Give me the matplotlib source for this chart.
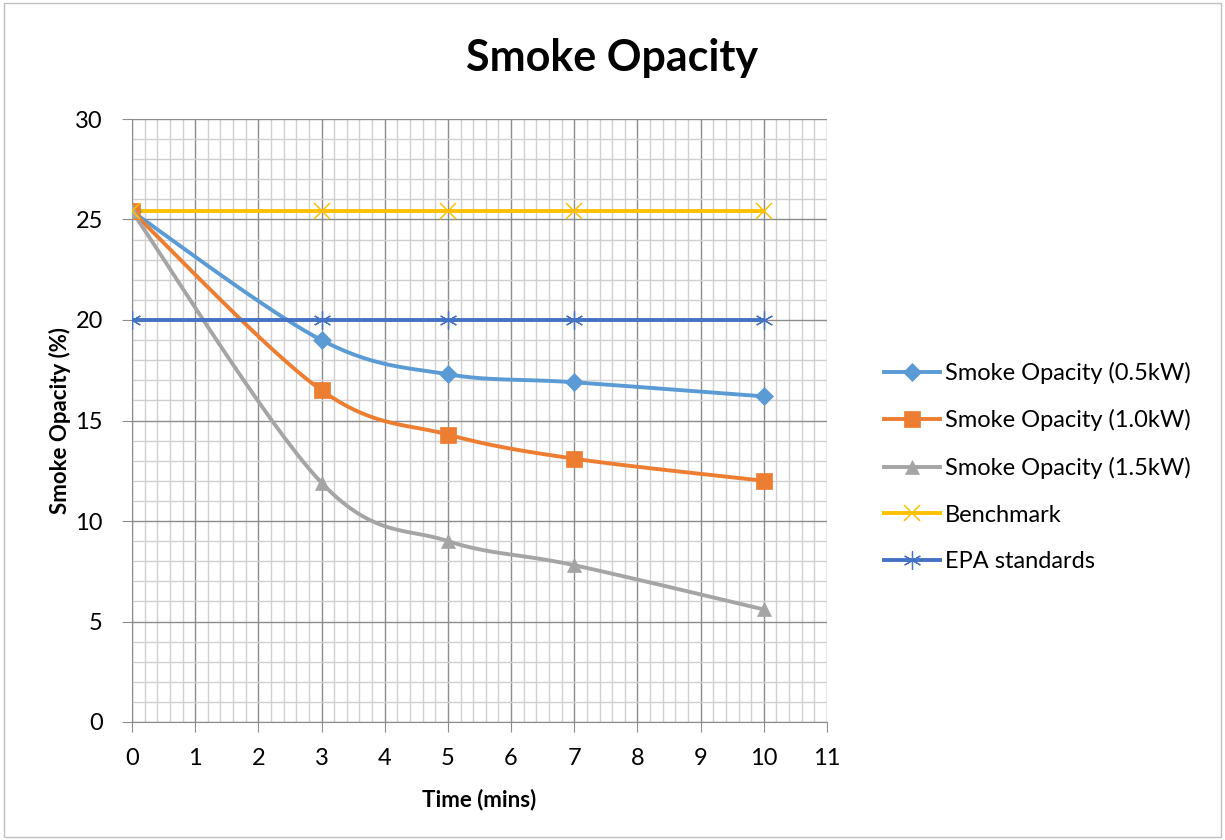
import matplotlib
matplotlib.use("Agg")
import matplotlib.pyplot as plt
import numpy as np
from matplotlib.ticker import MultipleLocator
from matplotlib.patches import Rectangle

plt.rcParams["font.family"] = ["Lato", "DejaVu Sans"]

times = [0, 3, 5, 7, 10]
opacity_05 = [25.4, 19.0, 17.3, 16.9, 16.2]
opacity_10 = [25.4, 16.5, 14.3, 13.1, 12.0]
opacity_15 = [25.4, 11.9, 9.0, 7.8, 5.6]
benchmark = [25.4, 25.4, 25.4, 25.4, 25.4]
epa_standard = [20, 20, 20, 20, 20]

labels = ["Smoke Opacity (0.5kW)", "Smoke Opacity (1.0kW)", "Smoke Opacity (1.5kW)",
          "Benchmark", "EPA standards"]
colors = ["#5B9BD5", "#ED7D31", "#A5A5A5", "#FFC000", "#4472C4"]
markers = ["D", "s", "^", "x", (6, 2, 0)]
markerSizes = [9, 11, 10, 12, 13]
markerEdges = [0.5, 0.5, 0.5, 1.1, 0.9]
smooth = [True, True, True, False, False]


def smoothCurve(xs, ys, sx, sy, n=30):
    # excel-like bezier smoothing, done in roughly screen-scaled coordinates
    pts = np.column_stack([np.array(xs, float) * sx, np.array(ys, float) * sy])
    outX, outY = [], []
    for i in range(len(pts) - 1):
        p0 = pts[max(i - 1, 0)]
        p1 = pts[i]
        p2 = pts[i + 1]
        p3 = pts[min(i + 2, len(pts) - 1)]
        c1 = p1 + (p2 - p0) / 6.0
        c2 = p2 - (p3 - p1) / 6.0
        t = np.linspace(0, 1, n)[:, None]
        seg = (1 - t) ** 3 * p1 + 3 * (1 - t) ** 2 * t * c1 + 3 * (1 - t) * t ** 2 * c2 + t ** 3 * p2
        outX.extend(seg[:, 0] / sx)
        outY.extend(seg[:, 1] / sy)
    return outX, outY


fig = plt.figure(figsize=(12.25, 8.4), dpi=100)
ax = fig.add_axes([132 / 1225, 1 - 722 / 840, (827 - 132) / 1225, (722 - 119) / 840])

ax.set_xlim(0, 11)
ax.set_ylim(0, 30)
ax.xaxis.set_major_locator(MultipleLocator(1))
ax.xaxis.set_minor_locator(MultipleLocator(0.2))
ax.yaxis.set_major_locator(MultipleLocator(5))
ax.yaxis.set_minor_locator(MultipleLocator(1))
ax.grid(which="major", color="#8C8C8C", linewidth=1.0, zorder=0)
ax.grid(which="minor", color="#D0D0D0", linewidth=1.0, zorder=0)
ax.set_axisbelow(True)

for s in ["top", "right"]:
    ax.spines[s].set_visible(False)
for s in ["left", "bottom"]:
    ax.spines[s].set_color("#8C8C8C")
ax.tick_params(which="major", length=7, color="#8C8C8C", labelsize=17)
ax.tick_params(axis="x", pad=12)
ax.tick_params(axis="y", pad=14)
ax.tick_params(which="minor", length=0)

sx, sy = 63.2, 20.1
seriesList = [opacity_05, opacity_10, opacity_15, benchmark, epa_standard]
for vals, lab, col, mk, ms, mew, sm in zip(seriesList, labels, colors, markers,
                                          markerSizes, markerEdges, smooth):
    if sm:
        cx, cy = smoothCurve(times, vals, sx, sy)
    else:
        cx, cy = times, vals
    ax.plot(cx, cy, color=col, linewidth=2.8, zorder=3, solid_capstyle="round")
    ax.plot(times, vals, linestyle="none", marker=mk, color=col, markersize=ms,
            markeredgewidth=mew, zorder=4)
    ax.plot([], [], color=col, linewidth=2.8, marker=mk, markersize=ms,
            markeredgewidth=mew, label=lab)

ax.set_xlabel("Time (mins)", fontsize=16, fontweight="bold", labelpad=14)
ax.set_ylabel("Smoke Opacity (%)", fontsize=16, fontweight="bold", labelpad=3)
fig.suptitle("Smoke Opacity", fontsize=31, fontweight="bold", x=0.5, y=1 - 58 / 840,
             va="center")

ax.legend(loc="center left", bbox_to_anchor=(1.068, 0.423), frameon=False, fontsize=17,
          handlelength=2.4, handletextpad=0.2, labelspacing=1.08, borderaxespad=0)

fig.patches.append(Rectangle((0.003, 0.003), 0.994, 0.994, transform=fig.transFigure,
                             fill=False, edgecolor="#BFBFBF", linewidth=1.0))

fig.savefig("out.png", dpi=100)
